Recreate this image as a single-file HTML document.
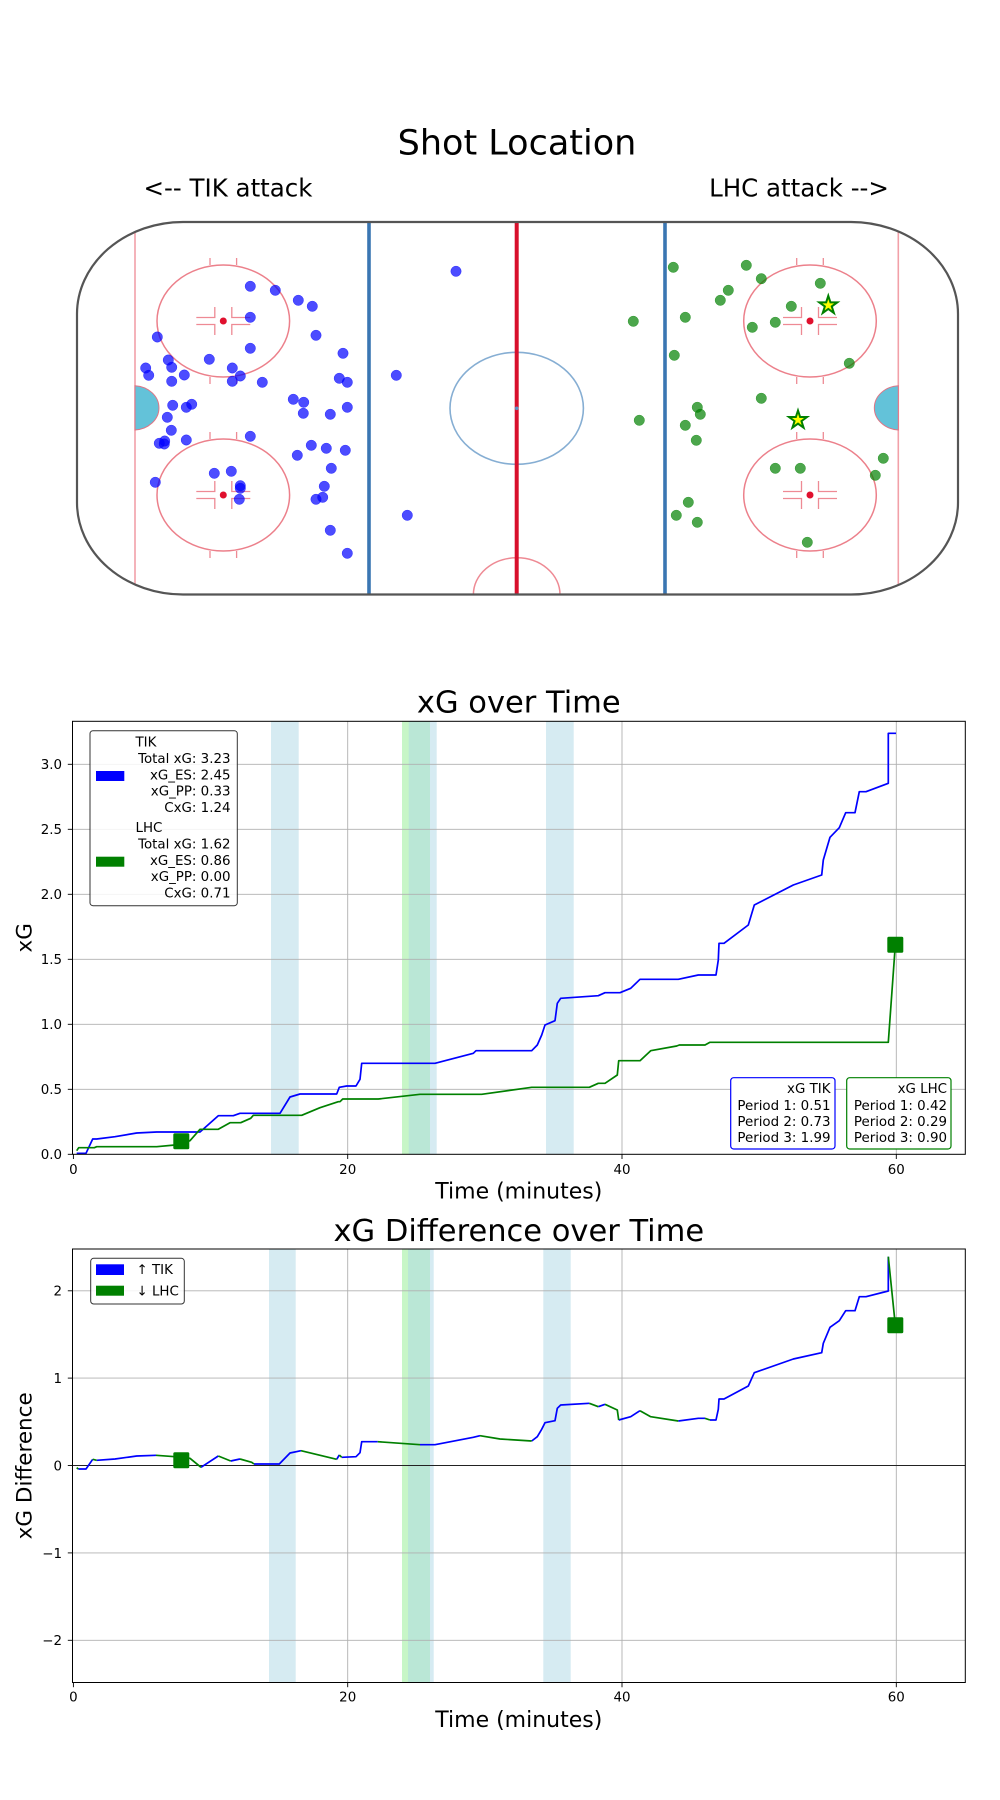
<!DOCTYPE html>
<html><head><meta charset="utf-8"><style>
html,body{margin:0;padding:0;background:#fff;}
svg{display:block;}
text{font-family:"DejaVu Sans","Liberation Sans",sans-serif;fill:#000;}
</style></head><body>
<svg width="1000" height="1800" viewBox="0 0 1000 1800" xmlns="http://www.w3.org/2000/svg">
<rect width="1000" height="1800" fill="#fff"/>

<!-- ===== Shot Location ===== -->
<text x="517" y="154.3" font-size="35" text-anchor="middle">Shot Location</text>
<text x="228" y="196.5" font-size="24.5" text-anchor="middle">&lt;-- TIK attack</text>
<text x="799" y="196.5" font-size="24.5" text-anchor="middle">LHC attack --&gt;</text>

<g>
<path d="M183,222 H851 A107,92 0 0 1 958,314 V502.5 A107,92 0 0 1 851,594.5 H183 A106,92 0 0 1 77,502.5 V314 A106,92 0 0 1 183,222 Z" fill="#fff"/>
<!-- goal lines -->
<line x1="135" y1="232" x2="135" y2="585" stroke="#f2a0a8" stroke-width="1.6"/>
<line x1="898.3" y1="232" x2="898.3" y2="585" stroke="#f2a0a8" stroke-width="1.6"/>
<!-- creases -->
<path d="M135,385.7 A25.7,22.2 0 0 1 135,430 Z" fill="#63c2d9" stroke="#e07484" stroke-width="1"/>
<path d="M898.3,385.7 A25.7,22.2 0 0 0 898.3,430 Z" fill="#63c2d9" stroke="#e07484" stroke-width="1"/>
<!-- blue lines -->
<line x1="369" y1="222" x2="369" y2="594.5" stroke="#3a76b2" stroke-width="3.6"/>
<line x1="665" y1="222" x2="665" y2="594.5" stroke="#3a76b2" stroke-width="3.6"/>
<!-- center circle -->
<ellipse cx="516.7" cy="408.3" rx="66.7" ry="56" fill="none" stroke="#86aed3" stroke-width="1.6"/>
<!-- referee crease -->
<path d="M473.4,594.5 A43.3,36.7 0 0 1 560,594.5" fill="none" stroke="#ee8a94" stroke-width="1.5"/>
<!-- center red line -->
<line x1="516.7" y1="222" x2="516.7" y2="594.5" stroke="#d8102c" stroke-width="4"/>
<circle cx="516.7" cy="408.3" r="1.8" fill="#5a8fc4"/>
<!-- faceoff circles -->
<g fill="none" stroke="#ec808b" stroke-width="1.5">
<ellipse cx="223.3" cy="321" rx="66.3" ry="56"/>
<ellipse cx="223.3" cy="495" rx="66.3" ry="56"/>
<ellipse cx="810" cy="321" rx="66.3" ry="56"/>
<ellipse cx="810" cy="495" rx="66.3" ry="56"/>
</g>
<g stroke="#ee8a94" stroke-width="1.3" fill="none">
<!-- circle 1 (223.3,321) -->
<path d="M210,258 V265 M236.6,258 V265 M210,377 V384 M236.6,377 V384"/>
<path d="M196.3,317.5 H214.8 V307 M196.3,324.5 H214.8 V335 M250.3,317.5 H231.8 V307 M250.3,324.5 H231.8 V335"/>
<!-- circle 2 (223.3,495) -->
<path d="M210,432 V439 M236.6,432 V439 M210,551 V558 M236.6,551 V558"/>
<path d="M196.3,491.5 H214.8 V481 M196.3,498.5 H214.8 V509 M250.3,491.5 H231.8 V481 M250.3,498.5 H231.8 V509"/>
<!-- circle 3 (810,321) -->
<path d="M796.7,258 V265 M823.3,258 V265 M796.7,377 V384 M823.3,377 V384"/>
<path d="M783,317.5 H801.5 V307 M783,324.5 H801.5 V335 M837,317.5 H818.5 V307 M837,324.5 H818.5 V335"/>
<!-- circle 4 (810,495) -->
<path d="M796.7,432 V439 M823.3,432 V439 M796.7,551 V558 M823.3,551 V558"/>
<path d="M783,491.5 H801.5 V481 M783,498.5 H801.5 V509 M837,491.5 H818.5 V481 M837,498.5 H818.5 V509"/>
</g>
<g fill="#e0102e">
<circle cx="223.3" cy="321" r="3.5"/><circle cx="223.3" cy="495" r="3.5"/>
<circle cx="810" cy="321" r="3.5"/><circle cx="810" cy="495" r="3.5"/>
</g>
<!-- boundary -->
<path d="M183,222 H851 A107,92 0 0 1 958,314 V502.5 A107,92 0 0 1 851,594.5 H183 A106,92 0 0 1 77,502.5 V314 A106,92 0 0 1 183,222 Z" fill="none" stroke="#555" stroke-width="2.2"/>
</g>

<!-- TIK shots -->
<g fill="#0000ff" fill-opacity="0.7" stroke="#0000ff" stroke-opacity="0.7" stroke-width="0.5">
<circle cx="456" cy="271.3" r="5.2"/><circle cx="250.3" cy="286.3" r="5.2"/><circle cx="275.3" cy="290.3" r="5.2"/>
<circle cx="298.3" cy="300.3" r="5.2"/><circle cx="312.3" cy="306.3" r="5.2"/><circle cx="250.3" cy="317.3" r="5.2"/>
<circle cx="157.3" cy="337" r="5.2"/><circle cx="316" cy="335.3" r="5.2"/><circle cx="250.3" cy="348.3" r="5.2"/>
<circle cx="343" cy="353.3" r="5.2"/><circle cx="209.3" cy="359.3" r="5.2"/><circle cx="168.3" cy="360" r="5.2"/>
<circle cx="171.7" cy="367.3" r="5.2"/><circle cx="145.7" cy="368" r="5.2"/><circle cx="232.3" cy="368" r="5.2"/>
<circle cx="148.7" cy="375.3" r="5.2"/><circle cx="184.3" cy="375" r="5.2"/><circle cx="240.3" cy="376" r="5.2"/>
<circle cx="171.7" cy="381.3" r="5.2"/><circle cx="232.3" cy="381.3" r="5.2"/><circle cx="262.3" cy="382.3" r="5.2"/>
<circle cx="339.3" cy="378.3" r="5.2"/><circle cx="347.3" cy="382.3" r="5.2"/><circle cx="396.3" cy="375.3" r="5.2"/>
<circle cx="293.3" cy="399.3" r="5.2"/><circle cx="303.7" cy="402.3" r="5.2"/><circle cx="303.3" cy="413.3" r="5.2"/>
<circle cx="330.3" cy="414.3" r="5.2"/><circle cx="347.3" cy="407.3" r="5.2"/><circle cx="172.7" cy="405.3" r="5.2"/>
<circle cx="186.3" cy="407.3" r="5.2"/><circle cx="191.7" cy="404.3" r="5.2"/><circle cx="167.3" cy="417.3" r="5.2"/>
<circle cx="171.3" cy="430.3" r="5.2"/><circle cx="186.3" cy="440" r="5.2"/><circle cx="159.3" cy="443.3" r="5.2"/>
<circle cx="164.7" cy="441" r="5.2"/><circle cx="164.3" cy="444" r="5.2"/><circle cx="250.3" cy="436.3" r="5.2"/>
<circle cx="311.3" cy="445.3" r="5.2"/><circle cx="326.3" cy="448.3" r="5.2"/><circle cx="345.3" cy="450.3" r="5.2"/>
<circle cx="297.3" cy="455.3" r="5.2"/><circle cx="331.3" cy="468.3" r="5.2"/><circle cx="214.3" cy="473.3" r="5.2"/>
<circle cx="231.3" cy="471.3" r="5.2"/><circle cx="155.3" cy="482.3" r="5.2"/><circle cx="240.3" cy="485.7" r="5.2"/>
<circle cx="240.3" cy="488.3" r="5.2"/><circle cx="239.3" cy="499.3" r="5.2"/><circle cx="324.3" cy="486.3" r="5.2"/>
<circle cx="322.7" cy="497.3" r="5.2"/><circle cx="316" cy="499.3" r="5.2"/><circle cx="407.3" cy="515.3" r="5.2"/>
<circle cx="330.3" cy="530.3" r="5.2"/><circle cx="347.3" cy="553.3" r="5.2"/>
</g>
<!-- LHC shots -->
<g fill="#008000" fill-opacity="0.7" stroke="#008000" stroke-opacity="0.7" stroke-width="0.5">
<circle cx="673.3" cy="267.3" r="5.2"/><circle cx="746.3" cy="265.3" r="5.2"/><circle cx="761.3" cy="278.7" r="5.2"/>
<circle cx="820.3" cy="283.3" r="5.2"/><circle cx="728.3" cy="290.3" r="5.2"/><circle cx="720.3" cy="300.3" r="5.2"/>
<circle cx="791.3" cy="306.3" r="5.2"/><circle cx="633.3" cy="321.3" r="5.2"/><circle cx="685.3" cy="317.3" r="5.2"/>
<circle cx="775.3" cy="322.3" r="5.2"/><circle cx="752.3" cy="327.3" r="5.2"/><circle cx="674.3" cy="355.3" r="5.2"/>
<circle cx="849.3" cy="363.3" r="5.2"/><circle cx="761.3" cy="398.3" r="5.2"/><circle cx="697.3" cy="407.3" r="5.2"/>
<circle cx="700.3" cy="414.3" r="5.2"/><circle cx="639.3" cy="420.3" r="5.2"/><circle cx="685.3" cy="425.3" r="5.2"/>
<circle cx="696.3" cy="440.3" r="5.2"/><circle cx="883.3" cy="458.3" r="5.2"/><circle cx="875.3" cy="475.3" r="5.2"/>
<circle cx="775.3" cy="468.3" r="5.2"/><circle cx="800.3" cy="468.3" r="5.2"/><circle cx="688.3" cy="502.3" r="5.2"/>
<circle cx="676.3" cy="515.3" r="5.2"/><circle cx="697.3" cy="522.3" r="5.2"/><circle cx="807.3" cy="542.3" r="5.2"/>
</g>
<!-- goal stars -->
<g fill="#ffff00" stroke="#008000" stroke-width="2" stroke-linejoin="miter">
<path transform="translate(828.3,305.3)" d="M0,-9.5 L2.13,-2.94 L9.04,-2.94 L3.45,1.12 L5.58,7.69 L0,3.63 L-5.58,7.69 L-3.45,1.12 L-9.04,-2.94 L-2.13,-2.94 Z"/>
<path transform="translate(798,420)" d="M0,-9.5 L2.13,-2.94 L9.04,-2.94 L3.45,1.12 L5.58,7.69 L0,3.63 L-5.58,7.69 L-3.45,1.12 L-9.04,-2.94 L-2.13,-2.94 Z"/>
</g>

<!-- ===== xG over Time ===== -->
<text x="518.8" y="712.5" font-size="30.5" text-anchor="middle">xG over Time</text>
<!-- spans -->
<rect x="271" y="721.3" width="27.7" height="433" fill="#add8e6" fill-opacity="0.5"/>
<rect x="402" y="721.3" width="28" height="433" fill="#90ee90" fill-opacity="0.5"/>
<rect x="408.7" y="721.3" width="28" height="433" fill="#add8e6" fill-opacity="0.5"/>
<rect x="546" y="721.3" width="27.7" height="433" fill="#add8e6" fill-opacity="0.5"/>
<!-- grid -->
<g stroke="#b0b0b0" stroke-width="0.9">
<line x1="72.5" y1="1089.3" x2="965.3" y2="1089.3"/>
<line x1="72.5" y1="1024.3" x2="965.3" y2="1024.3"/>
<line x1="72.5" y1="959.3" x2="965.3" y2="959.3"/>
<line x1="72.5" y1="894.3" x2="965.3" y2="894.3"/>
<line x1="72.5" y1="829.3" x2="965.3" y2="829.3"/>
<line x1="72.5" y1="764.3" x2="965.3" y2="764.3"/>
<line x1="347.7" y1="721.3" x2="347.7" y2="1154.3"/>
<line x1="622" y1="721.3" x2="622" y2="1154.3"/>
<line x1="896.3" y1="721.3" x2="896.3" y2="1154.3"/>
</g>
<!-- data -->
<polyline fill="none" stroke="#0000ff" stroke-width="1.7" stroke-linejoin="round" points="76.7,1153.3 86,1153.3 92.7,1139 96.7,1139 115,1136.7 136.7,1133 156.7,1132 200,1132 218.3,1115.7 233.3,1115.7 240,1113.3 280,1113.3 290,1097 300,1094 336.7,1094 339.3,1087.3 346.7,1086 356,1086 360,1079.3 361.7,1063.3 435,1063.3 473.3,1053.3 476,1050.7 531.7,1050.7 537.3,1045 541.7,1035 545,1025 555,1020.7 557.3,1003.3 560.7,998.3 598.3,995.7 605,992.7 620,992.7 630.7,988.3 640,979.3 678.3,979.3 698.3,975 716,975 718.3,960 719,943.3 724,943.3 748.3,925 754.3,905 793.3,885 821.7,875 823.3,860 830,837.3 839.3,827.7 845.7,812.7 855,812.7 859.3,791.7 866,791.7 888.3,783.3 888.3,733.3 896,733.3"/>
<polyline fill="none" stroke="#008000" stroke-width="1.7" stroke-linejoin="round" points="76.7,1150.7 78.7,1147.7 94.3,1147.7 96.7,1146.7 156.7,1146.7 175,1145 181,1144 190,1140.7 200,1129.3 218.3,1129.3 230,1122.7 240.7,1122.7 250.7,1118.3 253.3,1115.3 301.7,1115.3 320,1107.7 338.3,1101.7 340,1101.7 342.7,1099 378.3,1099 420,1094.3 481.7,1094.3 531.7,1087.3 589.3,1087.3 598.3,1083.3 605,1083.3 617.3,1075 618.7,1060.7 640,1060.7 650.7,1050.7 676.7,1046 679.3,1045 705,1045 710,1042.3 888.3,1042.3 895.3,945"/>
<rect x="173.3" y="1133.3" width="16" height="16" rx="1.5" fill="#008000"/>
<rect x="887.3" y="936.7" width="16" height="16" rx="1.5" fill="#008000"/>
<!-- axes frame -->
<rect x="72.5" y="721.3" width="892.8" height="433" fill="none" stroke="#000" stroke-width="1"/>
<!-- ticks -->
<g stroke="#000" stroke-width="0.9">
<line x1="67.8" y1="1154.3" x2="72.5" y2="1154.3"/><line x1="67.8" y1="1089.3" x2="72.5" y2="1089.3"/>
<line x1="67.8" y1="1024.3" x2="72.5" y2="1024.3"/><line x1="67.8" y1="959.3" x2="72.5" y2="959.3"/>
<line x1="67.8" y1="894.3" x2="72.5" y2="894.3"/><line x1="67.8" y1="829.3" x2="72.5" y2="829.3"/>
<line x1="67.8" y1="764.3" x2="72.5" y2="764.3"/>
<line x1="73.4" y1="1154.3" x2="73.4" y2="1159"/><line x1="347.7" y1="1154.3" x2="347.7" y2="1159"/>
<line x1="622" y1="1154.3" x2="622" y2="1159"/><line x1="896.3" y1="1154.3" x2="896.3" y2="1159"/>
</g>
<g font-size="13.4" text-anchor="end">
<text x="62" y="1159.2">0.0</text><text x="62" y="1094.2">0.5</text><text x="62" y="1029.2">1.0</text>
<text x="62" y="964.2">1.5</text><text x="62" y="899.2">2.0</text><text x="62" y="834.2">2.5</text>
<text x="62" y="769.2">3.0</text>
</g>
<g font-size="13.4" text-anchor="middle">
<text x="73.4" y="1174.2">0</text><text x="347.7" y="1174.2">20</text><text x="622" y="1174.2">40</text><text x="896.3" y="1174.2">60</text>
</g>
<text x="518.8" y="1198.5" font-size="22" text-anchor="middle">Time (minutes)</text>
<text transform="translate(31.7,937.8) rotate(-90)" font-size="21.5" text-anchor="middle">xG</text>
<!-- legend -->
<rect x="90" y="730.7" width="147.3" height="175" rx="3" fill="#fff" fill-opacity="0.85" stroke="#333" stroke-width="1"/>
<rect x="96" y="771" width="28.3" height="10" fill="#0000ff"/>
<rect x="96" y="856.7" width="28.3" height="10" fill="#008000"/>
<g font-size="13.4">
<text x="135.5" y="746.5">TIK</text>
<text x="230.5" y="763" text-anchor="end">Total xG: 3.23</text>
<text x="230.5" y="779.3" text-anchor="end">xG_ES: 2.45</text>
<text x="230.5" y="795.6" text-anchor="end">xG_PP: 0.33</text>
<text x="230.5" y="811.9" text-anchor="end">CxG: 1.24</text>
<text x="135.5" y="832.2">LHC</text>
<text x="230.5" y="848.7" text-anchor="end">Total xG: 1.62</text>
<text x="230.5" y="865" text-anchor="end">xG_ES: 0.86</text>
<text x="230.5" y="881.2" text-anchor="end">xG_PP: 0.00</text>
<text x="230.5" y="897.3" text-anchor="end">CxG: 0.71</text>
</g>
<!-- period boxes -->
<rect x="730.7" y="1077.7" width="104.3" height="71.3" rx="3" fill="#fff" stroke="#0000ff" stroke-width="1.2"/>
<rect x="846.7" y="1077.7" width="104.3" height="71.3" rx="3" fill="#fff" stroke="#008000" stroke-width="1.2"/>
<g font-size="13.4" text-anchor="end">
<text x="830.5" y="1093">xG TIK</text>
<text x="830.5" y="1110">Period 1: 0.51</text>
<text x="830.5" y="1126.2">Period 2: 0.73</text>
<text x="830.5" y="1142">Period 3: 1.99</text>
<text x="947" y="1093">xG LHC</text>
<text x="947" y="1110">Period 1: 0.42</text>
<text x="947" y="1126.2">Period 2: 0.29</text>
<text x="947" y="1142">Period 3: 0.90</text>
</g>

<!-- ===== xG Difference over Time ===== -->
<text x="518.8" y="1241" font-size="30.5" text-anchor="middle">xG Difference over Time</text>
<rect x="269" y="1249" width="26.7" height="433.5" fill="#add8e6" fill-opacity="0.5"/>
<rect x="402" y="1249" width="28" height="433.5" fill="#90ee90" fill-opacity="0.5"/>
<rect x="408" y="1249" width="25.7" height="433.5" fill="#add8e6" fill-opacity="0.5"/>
<rect x="543.3" y="1249" width="27.4" height="433.5" fill="#add8e6" fill-opacity="0.5"/>
<g stroke="#b0b0b0" stroke-width="0.9">
<line x1="72.5" y1="1290.8" x2="965.3" y2="1290.8"/>
<line x1="72.5" y1="1378.1" x2="965.3" y2="1378.1"/>
<line x1="72.5" y1="1552.9" x2="965.3" y2="1552.9"/>
<line x1="72.5" y1="1640.3" x2="965.3" y2="1640.3"/>
<line x1="347.7" y1="1249" x2="347.7" y2="1682.5"/>
<line x1="622" y1="1249" x2="622" y2="1682.5"/>
<line x1="896.3" y1="1249" x2="896.3" y2="1682.5"/>
</g>
<line x1="72.5" y1="1465.5" x2="965.3" y2="1465.5" stroke="#222" stroke-width="1"/>
<path fill="none" stroke="#0000ff" stroke-width="1.7" stroke-linejoin="round" d="M78.3,1469 L86,1469 L92.7,1459.3 M96.7,1460.3 L115,1459 L136.7,1456 L156,1455.3 M201,1467.3 L218.3,1456 M230.7,1461 L240,1459 M254,1464 L279.3,1464 L290,1453 L301,1450.7 M336.7,1459.3 L339.3,1455 M341.7,1457.3 L356,1456.7 L360,1452.7 L361.7,1441.7 L377.7,1441.7 M420,1444.7 L435,1444.7 L473.3,1437.3 L480,1435.7 M531.7,1441 L537.3,1436.7 L541.7,1429.3 L545,1422.7 L555,1420.7 L557.3,1408.3 L560.7,1405 L589.3,1403.3 M598.3,1406.7 L605,1404.3 M618.7,1420 L630.7,1416.7 L640,1410.7 M678.3,1421 L698.3,1418.3 L705,1418.3 M710,1420 L716,1420 L718.3,1409.3 L719,1399 L724,1399 L748.3,1386 L754.3,1372.7 L793.3,1359 L821.7,1352.7 L823.3,1343.3 L830,1327.3 L839.3,1320.7 L845.7,1310.7 L855,1310.7 L859.3,1296.7 L866,1296.7 L888.3,1291 L888.3,1256.7"/>
<path fill="none" stroke="#008000" stroke-width="1.7" stroke-linejoin="round" d="M76.7,1467.7 L78.3,1469 M92.7,1459.3 L96.7,1460.3 M156,1455.3 L175,1456.7 L190,1458.3 L201,1467.3 M218.3,1456 L230.7,1461 M240,1459 L251.7,1462.3 L254,1464 M301,1450.7 L336.7,1459.3 M339.3,1455 L341.7,1457.3 M377.7,1441.7 L420,1444.7 M480,1435.7 L500,1439 L531.7,1441 M589.3,1403.3 L598.3,1406.7 M605,1404.3 L617.3,1410 L618.7,1420 M640,1410.7 L650.7,1416.7 L678.3,1421 M705,1418.3 L710,1420 M888.3,1256.7 L895.3,1325"/>
<rect x="173.3" y="1452.3" width="16" height="16" rx="1.5" fill="#008000"/>
<rect x="887.3" y="1317.3" width="16" height="16" rx="1.5" fill="#008000"/>
<rect x="72.5" y="1249" width="892.8" height="433.5" fill="none" stroke="#000" stroke-width="1"/>
<g stroke="#000" stroke-width="0.9">
<line x1="67.8" y1="1290.8" x2="72.5" y2="1290.8"/><line x1="67.8" y1="1378.1" x2="72.5" y2="1378.1"/>
<line x1="67.8" y1="1465.5" x2="72.5" y2="1465.5"/><line x1="67.8" y1="1552.9" x2="72.5" y2="1552.9"/>
<line x1="67.8" y1="1640.3" x2="72.5" y2="1640.3"/>
<line x1="73.4" y1="1682.5" x2="73.4" y2="1687.2"/><line x1="347.7" y1="1682.5" x2="347.7" y2="1687.2"/>
<line x1="622" y1="1682.5" x2="622" y2="1687.2"/><line x1="896.3" y1="1682.5" x2="896.3" y2="1687.2"/>
</g>
<g font-size="13.4" text-anchor="end">
<text x="62" y="1295.7">2</text><text x="62" y="1383">1</text><text x="62" y="1470.4">0</text>
<text x="62" y="1557.8">−1</text><text x="62" y="1645.2">−2</text>
</g>
<g font-size="13.4" text-anchor="middle">
<text x="73.4" y="1701.6">0</text><text x="347.7" y="1701.6">20</text><text x="622" y="1701.6">40</text><text x="896.3" y="1701.6">60</text>
</g>
<text x="518.8" y="1727" font-size="22" text-anchor="middle">Time (minutes)</text>
<text transform="translate(31.7,1465.8) rotate(-90)" font-size="21.5" text-anchor="middle">xG Difference</text>
<!-- legend -->
<rect x="90.7" y="1258.3" width="93.6" height="45.7" rx="3" fill="#fff" fill-opacity="0.85" stroke="#333" stroke-width="1"/>
<rect x="96" y="1264.3" width="28" height="10.7" fill="#0000ff"/>
<rect x="96" y="1285.7" width="28" height="10" fill="#008000"/>
<g font-size="13.4">
<text x="136.5" y="1274.2">↑ TIK</text>
<text x="136.5" y="1295.6">↓ LHC</text>
</g>
</svg>
</body></html>
